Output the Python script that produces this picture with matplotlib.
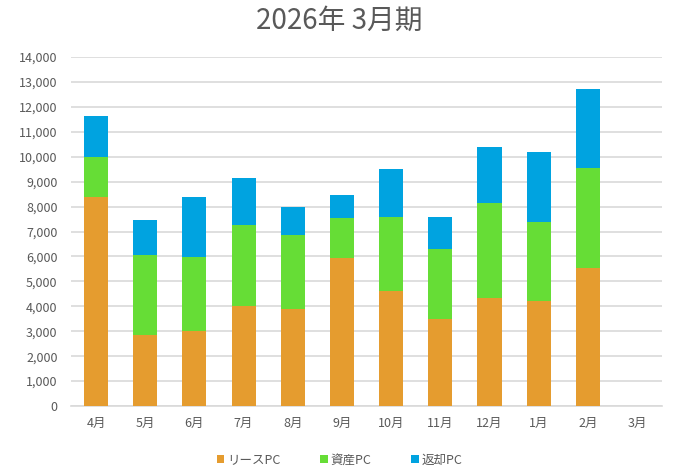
import matplotlib
matplotlib.use("Agg")
import matplotlib.pyplot as plt
import numpy as np

plt.rcParams['font.family'] = ['Noto Sans CJK JP', 'DejaVu Sans']

months = ['4月', '5月', '6月', '7月', '8月', '9月', '10月', '11月', '12月', '1月', '2月', '3月']
lease = [8400, 2850, 3000, 4000, 3880, 5930, 4620, 3480, 4340, 4220, 5550, 0]
asset = [1600, 3200, 2980, 3250, 2970, 1620, 2960, 2810, 3790, 3160, 3990, 0]
returned = [1650, 1400, 2420, 1900, 1150, 900, 1920, 1290, 2260, 2820, 3190, 0]
series_names = ['リースPC', '資産PC', '返却PC']
colors = ['#E59C2F', '#66DD36', '#00A3E0']
yticks = list(range(0, 14001, 1000))

fig = plt.figure(figsize=(6.79, 4.73), dpi=100)
ax = fig.add_axes([0.1052, 0.1416, 0.8693, 0.7379])

x = np.arange(len(months))
w = 0.49
b1 = np.array(lease)
b2 = b1 + np.array(asset)
ax.bar(x, lease, w, color=colors[0], label=series_names[0], zorder=3)
ax.bar(x, asset, w, bottom=b1, color=colors[1], label=series_names[1], zorder=3)
ax.bar(x, returned, w, bottom=b2, color=colors[2], label=series_names[2], zorder=3)

ax.set_xlim(-0.5, len(months) - 0.5)
ax.set_ylim(0, 14000)
ax.set_yticks(yticks)
ax.set_yticklabels([f'{v:,}' for v in yticks])
ax.set_xticks(x)
ax.set_xticklabels(months)
ax.yaxis.grid(True, color='#D9D9D9', linewidth=1.2, zorder=0)
ax.set_axisbelow(True)
for s in ['top', 'right', 'left']:
    ax.spines[s].set_visible(False)
ax.spines['bottom'].set_color('#D9D9D9')
ax.spines['bottom'].set_linewidth(1.2)
ax.tick_params(axis='both', length=0, colors='#595959', labelsize=9)
ax.tick_params(axis='y', pad=10)
ax.tick_params(axis='x', pad=8)

fig.text(0.5, 0.956, '2026年 3月期', ha='center', va='center', fontsize=20, color='#595959')

leg = fig.legend(loc='center', bbox_to_anchor=(0.5, 0.027), ncol=3, frameon=False,
                 fontsize=9, handlelength=0.6, handleheight=0.6, handletextpad=0.2,
                 columnspacing=3.2)
for t in leg.get_texts():
    t.set_color('#595959')

fig.savefig('out.png', dpi=100)
